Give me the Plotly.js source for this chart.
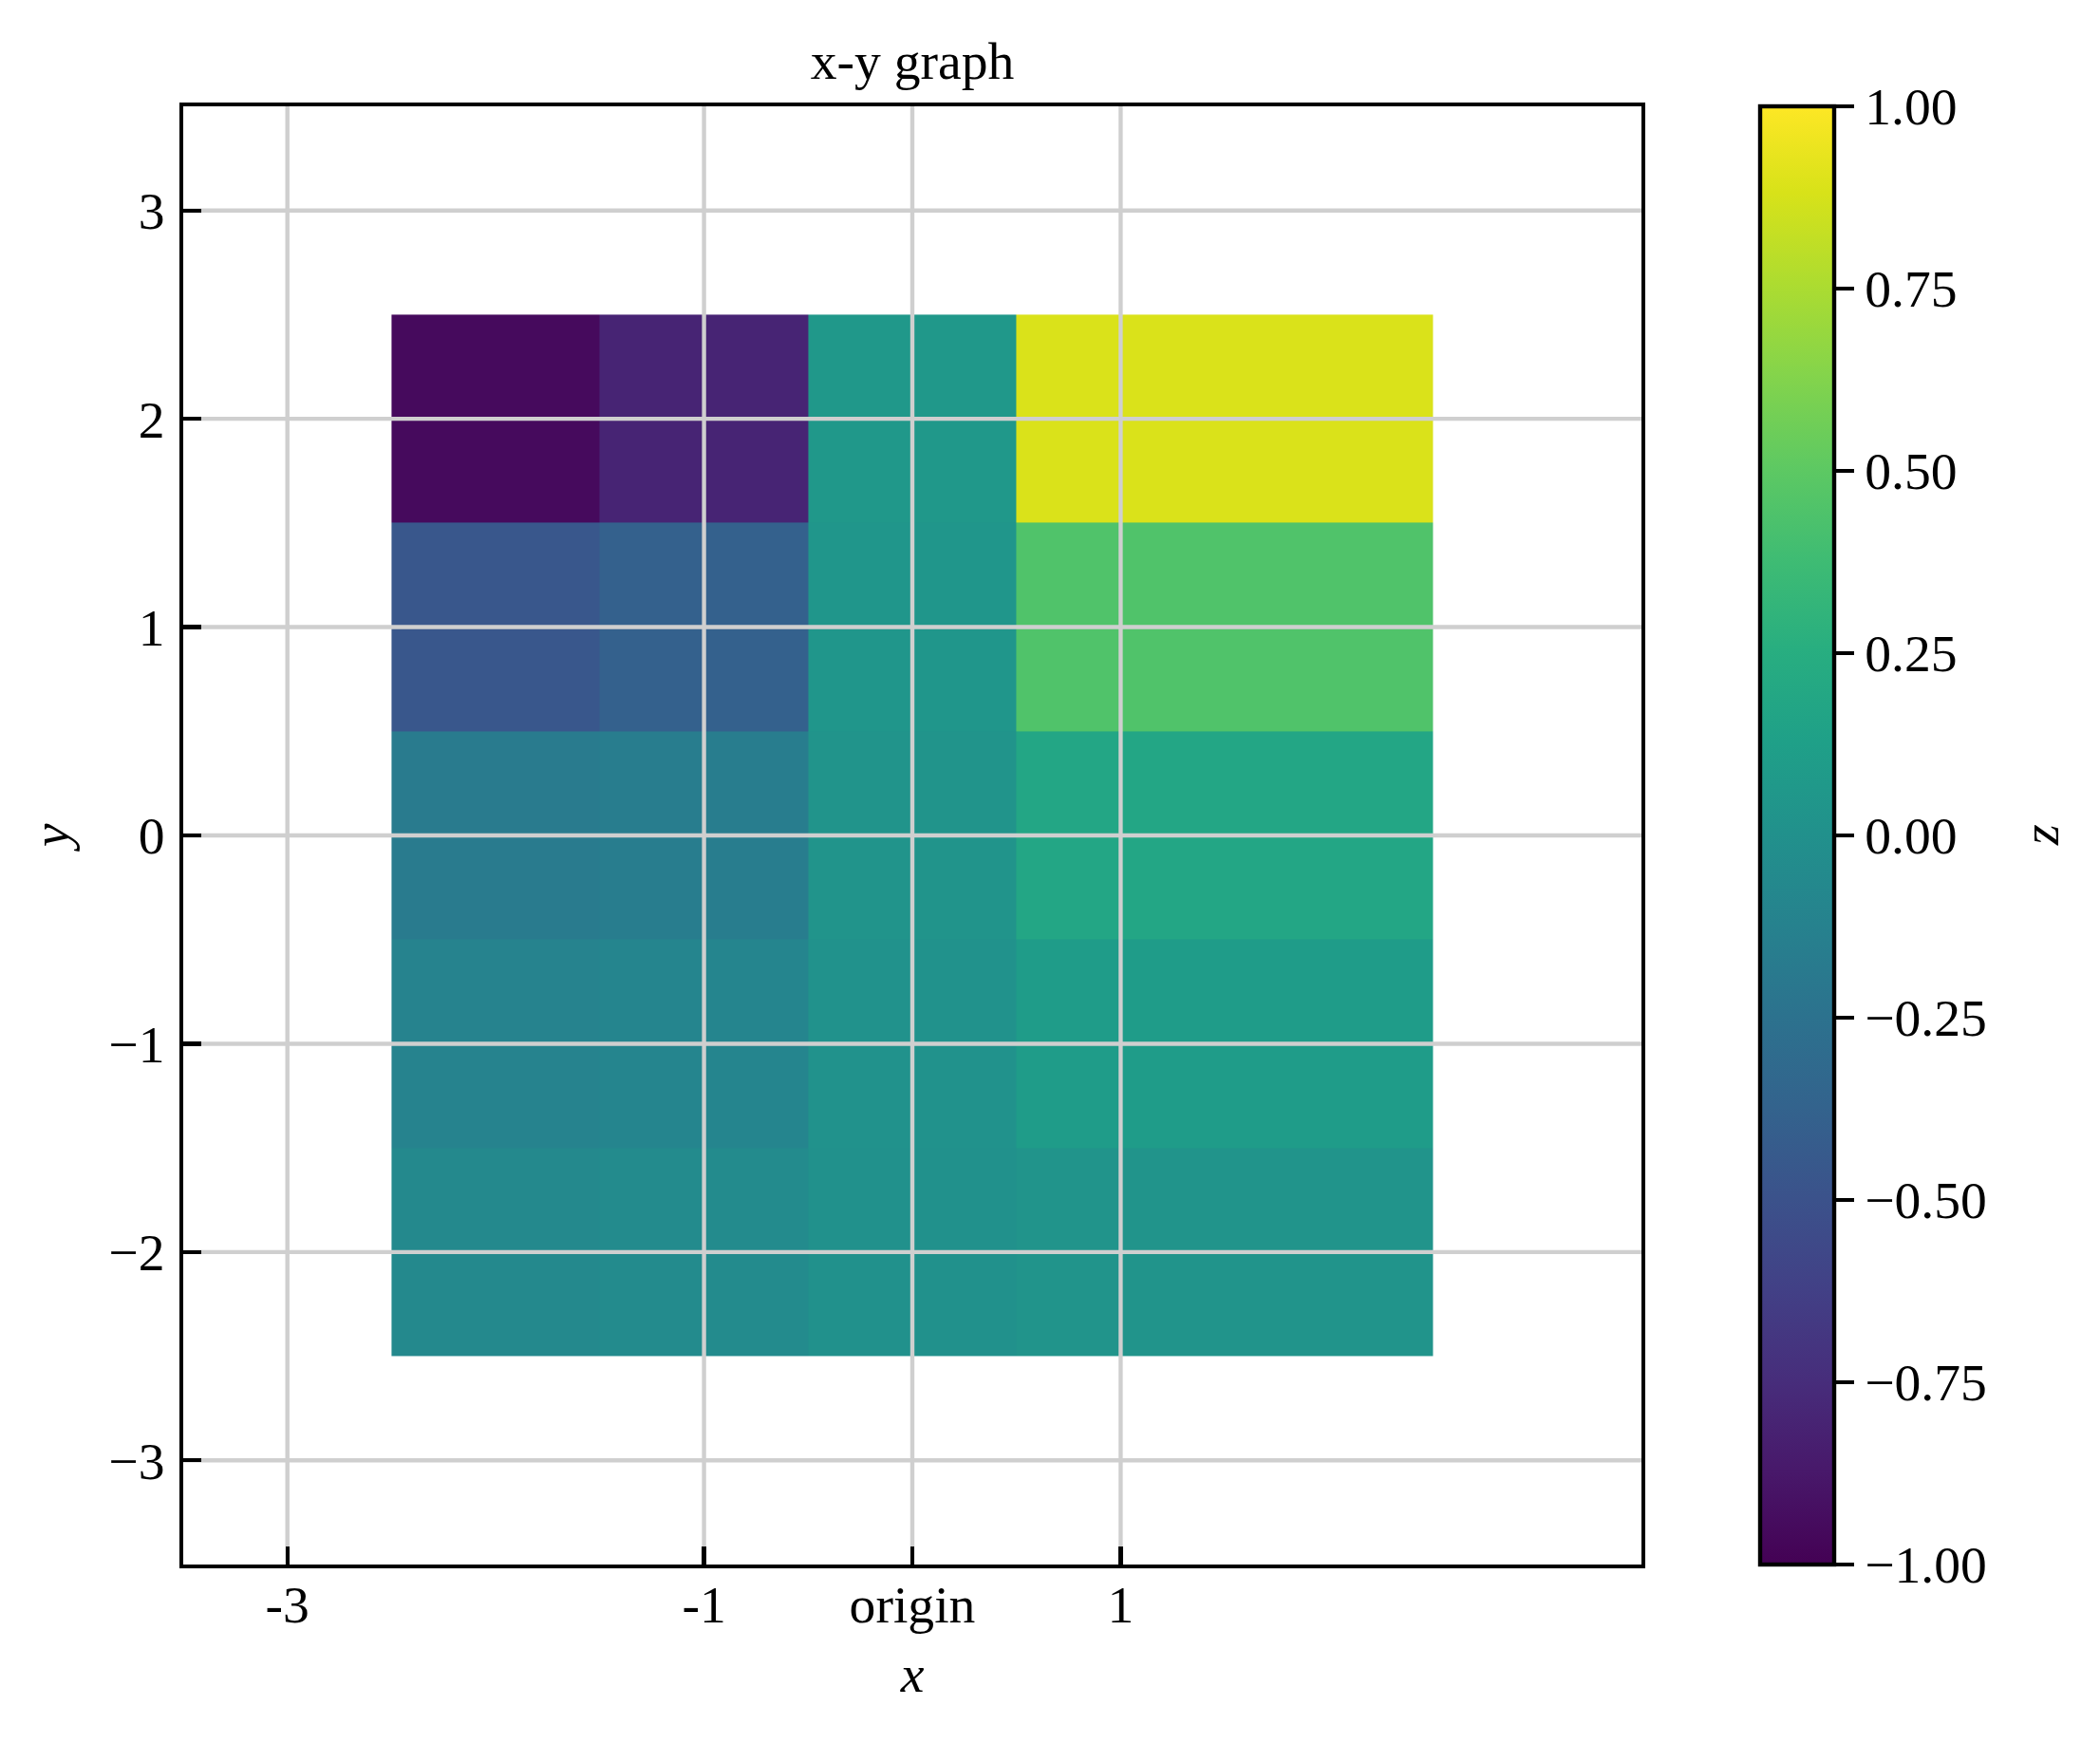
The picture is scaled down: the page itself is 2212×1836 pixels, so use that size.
<!DOCTYPE html>
<html>
<head>
<meta charset="utf-8">
<script src="https://cdn.plot.ly/plotly-3.0.1.min.js"></script>
<style>html,body{margin:0;padding:0;background:#fff;}#chart{width:2212px;height:1836px;}</style>
</head>
<body>
<div id="chart"></div>
<script>
// ---- data ----
const xEdges = [-2.5, -1.5, -0.5, 0.5, 2.5];
const yEdges = [-2.5, -1.5, -0.5, 0.5, 1.5, 2.5];
// rows from bottom (y = -2) to top (y = 2)
const zRowYm2 = [-0.06, -0.05, 0.005, 0.03];
const zRowYm1 = [-0.11, -0.10, 0.015, 0.10];
const zRowY0  = [-0.18, -0.16, 0.03, 0.18];
const zRowY1  = [-0.46, -0.39, 0.045, 0.45];
const zRowY2  = [-0.95, -0.80, 0.06, 0.89];
const xTickVals = [-3, -1, 0, 1];
const xTickText = ['-3', '-1', 'origin', '1'];
const yTickVals = [-3, -2, -1, 0, 1, 2, 3];
const yTickText = ['\u22123', '\u22122', '\u22121', '0', '1', '2', '3'];
const cbTickVals = [-1, -0.75, -0.5, -0.25, 0, 0.25, 0.5, 0.75, 1];
const cbTickText = ['\u22121.00', '\u22120.75', '\u22120.50', '\u22120.25', '0.00', '0.25', '0.50', '0.75', '1.00'];
const xRange = [-3.5, 3.5];
const yRange = [-3.5, 3.5];

// ---- styles ----
const FONT = 'Liberation Serif, Times New Roman, serif';
const FS = 55.6;
const LW = 4.4;
const TICKLEN = 19.4;
const GRID = '#cfcfcf';

const heat = {
  type: 'heatmap',
  x: xEdges,
  y: yEdges,
  z: [zRowYm2, zRowYm1, zRowY0, zRowY1, zRowY2],
  zmin: -1, zmax: 1,
  colorscale: 'Viridis',
  hoverinfo: 'skip',
  colorbar: {
    thickness: 78, thicknessmode: 'pixels',
    len: 1, lenmode: 'fraction',
    x: 1.0811, xanchor: 'left', y: 0.5, yanchor: 'middle',
    xpad: 0, ypad: 0,
    outlinewidth: LW, outlinecolor: '#000',
    ticks: 'outside', ticklen: TICKLEN, tickwidth: LW, tickcolor: '#000',
    tickmode: 'array', tickvals: cbTickVals, ticktext: cbTickText,
    tickfont: {family: FONT, size: FS, color: '#000'}
  }
};

// gridlines drawn above the heatmap (as in the reference)
const gx = [], gy = [];
xTickVals.forEach(v => { gx.push(v, v, null); gy.push(yRange[0], yRange[1], null); });
yTickVals.forEach(v => { gx.push(xRange[0], xRange[1], null); gy.push(v, v, null); });
const grid = {
  type: 'scatter', mode: 'lines', x: gx, y: gy,
  line: {color: GRID, width: LW}, hoverinfo: 'skip', showlegend: false
};

const axisCommon = {
  showline: true, linecolor: '#000', linewidth: LW, mirror: true,
  ticks: 'inside', ticklen: TICKLEN, tickwidth: LW, tickcolor: '#000',
  showgrid: false, zeroline: false, layer: 'above traces',
  tickfont: {family: FONT, size: FS, color: '#000'},
  tickmode: 'array', fixedrange: true
};

const layout = {
  width: 2212, height: 1836,
  paper_bgcolor: '#fff', plot_bgcolor: '#fff',
  margin: {l: 193, r: 483, t: 112, b: 188, pad: 0},
  showlegend: false,
  font: {family: FONT, size: FS, color: '#000'},
  title: {text: 'x-y graph', font: {family: FONT, size: FS, color: '#000'},
          x: 0.5, xref: 'paper', xanchor: 'center', y: 1 - 63.5/1836, yanchor: 'middle'},
  xaxis: Object.assign({}, axisCommon, {
    range: xRange, tickvals: xTickVals, ticktext: xTickText,
    ticklabelstandoff: -10,
    title: {text: '<i>x</i>', font: {family: FONT, size: FS, color: '#000'}, standoff: 24}
  }),
  yaxis: Object.assign({}, axisCommon, {
    range: yRange, tickvals: yTickVals, ticktext: yTickText,
    ticklabelstandoff: 4,
    title: {text: '<i>y</i>', font: {family: FONT, size: FS, color: '#000'}, standoff: 25}
  }),
  annotations: [{
    text: '<i>z</i>', xref: 'paper', yref: 'paper', x: (2149 - 193) / 1536, y: 0.5,
    xanchor: 'center', yanchor: 'middle', textangle: -90, showarrow: false,
    font: {family: FONT, size: FS, color: '#000'}
  }]
};

Plotly.newPlot('chart', [heat, grid], layout, {displayModeBar: false, staticPlot: true});
</script>
</body>
</html>
